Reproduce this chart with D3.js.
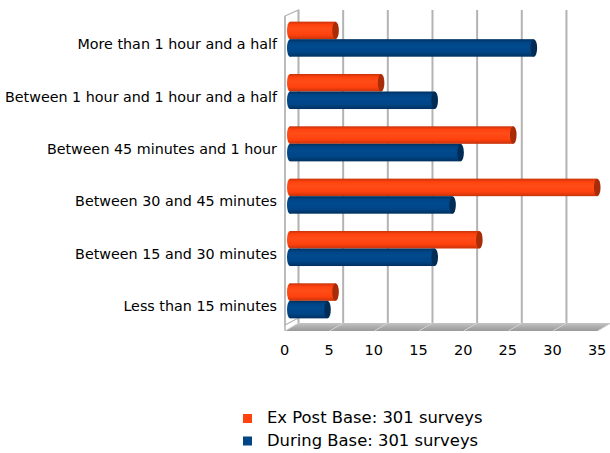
<!DOCTYPE html>
<html>
<head>
<meta charset="utf-8">
<script src="https://cdn.jsdelivr.net/npm/d3@7"></script>
<style>
  html, body { margin: 0; padding: 0; background: #fff; }
  svg { display: block; font-family: "DejaVu Sans", sans-serif; }
</style>
</head>
<body>
<svg id="chart" width="610" height="453"></svg>
<script>
// Time spent per visit, share of surveys (%)
const categories = [
  "More than 1 hour and a half",
  "Between 1 hour and 1 hour and a half",
  "Between 45 minutes and 1 hour",
  "Between 30 and 45 minutes",
  "Between 15 and 30 minutes",
  "Less than 15 minutes"
];
const seriesNames = ["Ex Post Base: 301 surveys", "During Base: 301 surveys"];
const exPost = [5.1, 10.2, 25.0, 34.4, 21.2, 5.1];
const during = [27.3, 16.2, 19.1, 18.2, 16.2, 4.2];
const tickValues = [0, 5, 10, 15, 20, 25, 30, 35];

const svg = d3.select("#chart");
const defs = svg.append("defs");

// 3D depth offset between the back wall and the front plane
const depth = { dx: -13.5, dy: 7 };

// front-plane value scale (axis labels), back wall scale, bar plane scale
const xFront = d3.scaleLinear().domain([0, 35]).range([285, 597.6]);
const xBack = v => xFront(v) - depth.dx;
const xBar = d3.scaleLinear().domain([0, 35]).range([290, 602.6]);

const y = d3.scaleBand().domain(categories).range([13, 327])
  .paddingInner(0.33).paddingOuter(0.165);
const sub = d3.scaleBand().domain([0, 1]).range([0, y.bandwidth()]);

const wallTop = 10, wallBottom = 323;

// left wall
svg.append("path")
  .attr("d", `M${xFront(0)},${wallTop + 6} L${xBack(0)},${wallTop} L${xBack(0)},${wallBottom - 5} L${xFront(0)},${wallBottom + 2} Z`)
  .attr("fill", "#fff").attr("stroke", "#b3b3b3").attr("stroke-width", 1.2);
svg.append("line")
  .attr("x1", xFront(0)).attr("x2", xFront(0))
  .attr("y1", wallTop + 6).attr("y2", wallBottom + 8)
  .attr("stroke", "#b3b3b3").attr("stroke-width", 1.5);

// back wall grid
svg.append("g").selectAll("line").data(tickValues).join("line")
  .attr("x1", d => xBack(d)).attr("x2", d => xBack(d))
  .attr("y1", wallTop).attr("y2", wallBottom)
  .attr("stroke", "#b3b3b3").attr("stroke-width", 2);

// floor
const floorGrad = defs.append("linearGradient").attr("id", "floor")
  .attr("x1", 0).attr("x2", 0).attr("y1", 0).attr("y2", 1);
floorGrad.append("stop").attr("offset", "0%").attr("stop-color", "#c4c4c4");
floorGrad.append("stop").attr("offset", "60%").attr("stop-color", "#a8a8a8");
floorGrad.append("stop").attr("offset", "100%").attr("stop-color", "#9a9a9a");
svg.append("path")
  .attr("d", `M${xBack(0)},${wallBottom} L${xBack(35)},${wallBottom} L${xFront(35)},${wallBottom + depth.dy + 1} L${xFront(0)},${wallBottom + depth.dy + 1} Z`)
  .attr("fill", "url(#floor)");
svg.append("g").selectAll("line").data(tickValues).join("line")
  .attr("x1", d => xBack(d)).attr("x2", d => xFront(d))
  .attr("y1", wallBottom).attr("y2", wallBottom + depth.dy + 1)
  .attr("stroke", "#d4d4d4").attr("stroke-width", 1);

// cylinder shading
function cylGradient(id, edge, mid, light) {
  const g = defs.append("linearGradient").attr("id", id)
    .attr("x1", 0).attr("x2", 0).attr("y1", 0).attr("y2", 1);
  g.append("stop").attr("offset", "0%").attr("stop-color", edge);
  g.append("stop").attr("offset", "18%").attr("stop-color", mid);
  g.append("stop").attr("offset", "40%").attr("stop-color", light);
  g.append("stop").attr("offset", "75%").attr("stop-color", mid);
  g.append("stop").attr("offset", "100%").attr("stop-color", edge);
}
cylGradient("cylOrange", "#c9330a", "#ff420e", "#ff4d18");
cylGradient("cylBlue", "#00305e", "#004586", "#004a8e");

const series = [
  { name: seriesNames[0], values: exPost, fill: "url(#cylOrange)", cap: "#a82c08", key: "#ff420e" },
  { name: seriesNames[1], values: during, fill: "url(#cylBlue)", cap: "#002c56", key: "#004586" }
];

const bars = svg.append("g");
series.forEach((s, si) => {
  const g = bars.append("g");
  categories.forEach((c, i) => {
    const top = y(c) + sub(si);
    const h = sub.bandwidth();
    const x0 = xBar(0), x1 = xBar(s.values[i]);
    g.append("ellipse").attr("cx", x0).attr("cy", top + h / 2)
      .attr("rx", 3).attr("ry", h / 2).attr("fill", s.fill);
    g.append("rect").attr("x", x0).attr("y", top)
      .attr("width", x1 - x0).attr("height", h).attr("fill", s.fill);
    g.append("ellipse").attr("cx", x1).attr("cy", top + h / 2)
      .attr("rx", 3.3).attr("ry", h / 2).attr("fill", s.cap);
  });
});

// category labels
svg.append("g").selectAll("text").data(categories).join("text")
  .attr("x", 277).attr("y", d => y(d) + y.bandwidth() / 2 + 5)
  .attr("dy", "0.35em").attr("text-anchor", "end")
  .attr("font-size", 14.3).attr("fill", "#000").text(d => d);

// value axis labels
const axis = svg.append("g").attr("transform", `translate(-1,${wallBottom + 8})`)
  .call(d3.axisBottom(xFront).tickValues(tickValues).tickSize(0).tickPadding(14));
axis.select(".domain").remove();
axis.selectAll("text").attr("font-size", 14.5).attr("fill", "#000")
  .attr("font-family", "DejaVu Sans, sans-serif");

// legend
const legend = svg.append("g");
series.forEach((s, i) => {
  legend.append("rect").attr("x", 243).attr("y", 414 + i * 22.5)
    .attr("width", 9).attr("height", 9).attr("fill", s.key);
  legend.append("text").attr("x", 267).attr("y", 423 + i * 22.5)
    .attr("font-size", 16.4).attr("fill", "#000").text(s.name);
});
</script>
</body>
</html>
